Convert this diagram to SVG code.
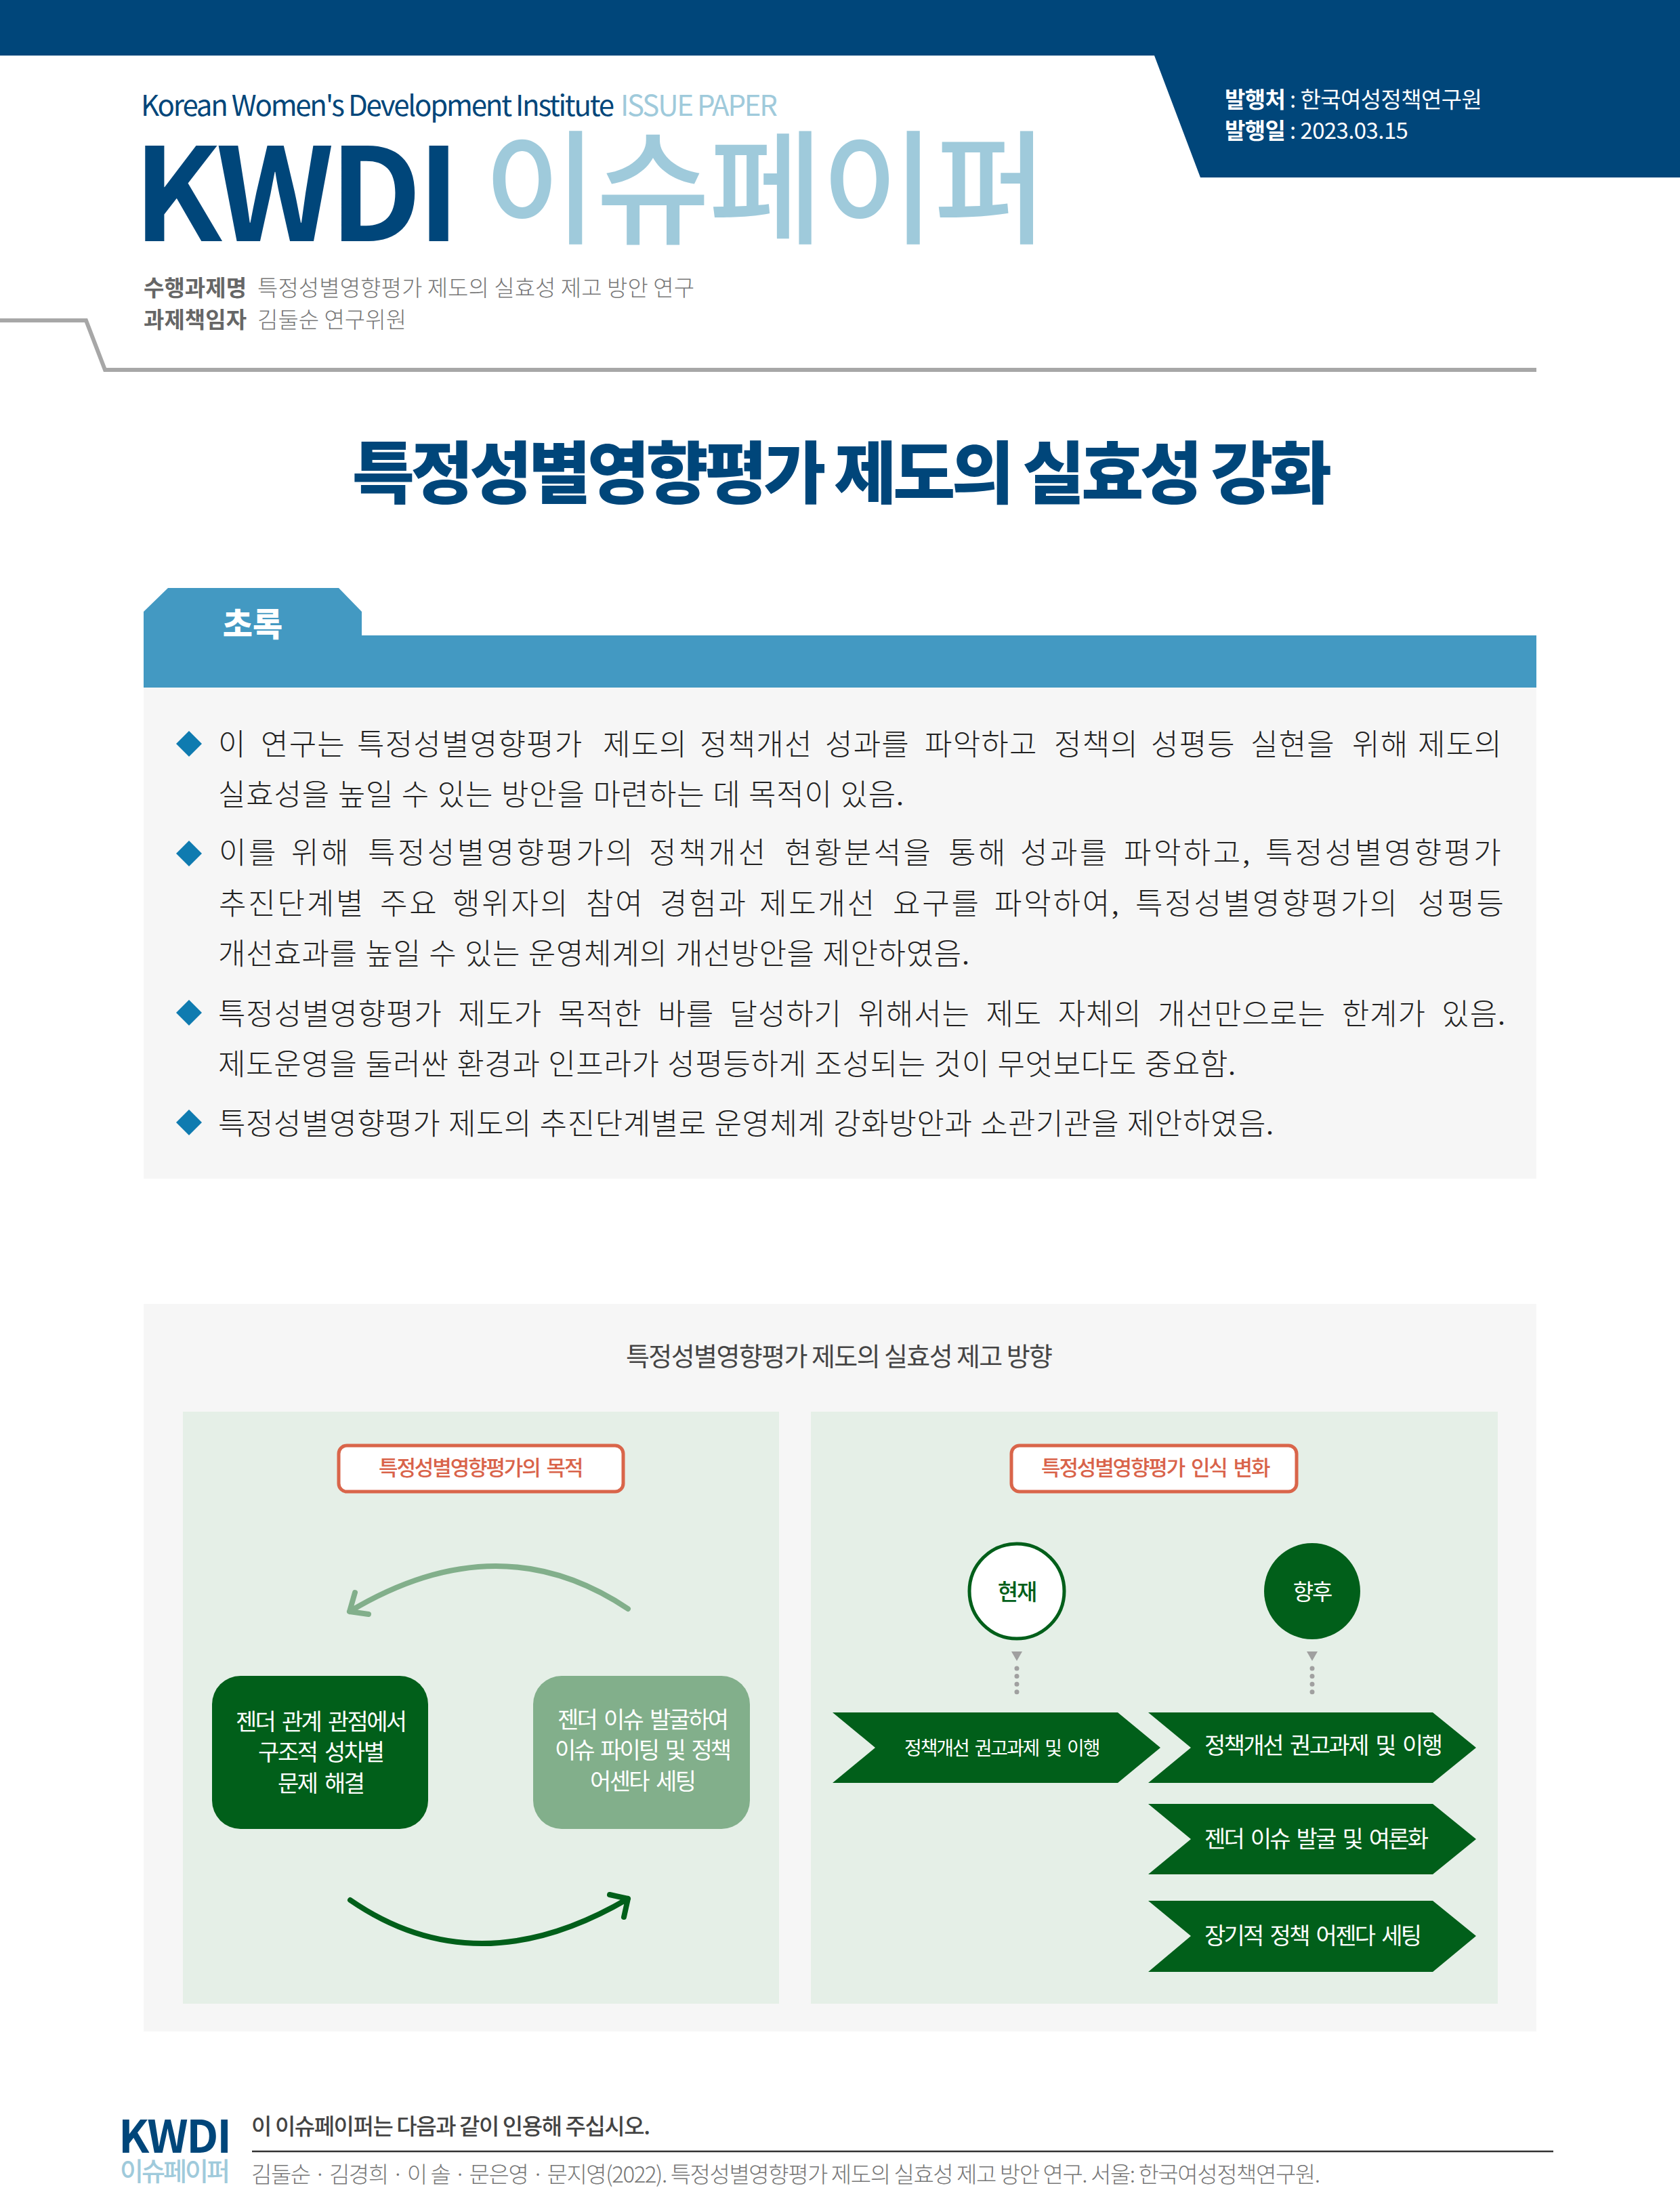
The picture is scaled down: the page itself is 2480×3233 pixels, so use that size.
<svg xmlns="http://www.w3.org/2000/svg" width="2480" height="3233" viewBox="0 0 2480 3233">
<defs>
<style>
text{font-family:"Noto Sans CJK KR","Noto Sans",sans-serif}
.body{font-family:"Liberation Serif","Noto Sans CJK KR",serif;font-size:44px;letter-spacing:-2px;fill:#222;font-weight:300}
.w{fill:#fff;text-anchor:middle;font-size:34px;font-weight:400;letter-spacing:-5px;word-spacing:6px}
.lab{fill:#d9634a;text-anchor:middle;font-size:31px;font-weight:500;letter-spacing:-4.5px;word-spacing:5px}
.lb{fill:#fff;stroke:#d9654a;stroke-width:5}
.chev{fill:#015f1a}
.cht{fill:#fff;font-size:34px;font-weight:400;letter-spacing:-5px;word-spacing:6px}
.meta{font-size:33px;fill:#777;font-weight:300}
.metab{font-size:33px;fill:#666;font-weight:700}
.pub{font-size:33px;fill:#fff;letter-spacing:-.6px}
.dot{fill:none;stroke:#a0a0a0;stroke-width:7;stroke-linecap:round;stroke-dasharray:0 11.6}
.arr{fill:none;stroke-width:8;stroke-linecap:round;stroke-linejoin:round}
.dia{fill:#0f7bb0}
</style>
</defs>
<rect width="2480" height="3233" fill="#fff"/>
<g id="header">
<path d="M0 0H2480V262H1772L1704 82H0Z" fill="#00467a"/>
<text class="pub" y="159"><tspan x="1808" font-weight="700">발행처</tspan><tspan> : 한국여성정책연구원</tspan></text>
<text class="pub" y="205"><tspan x="1808" font-weight="700">발행일</tspan><tspan> : 2023.03.15</tspan></text>
<text x="208" y="171" font-size="42" fill="#00467a" font-weight="400" textLength="699">Korean Women's Development Institute</text>
<text x="916" y="171" font-size="42" fill="#9fcadb" font-weight="400" textLength="232">ISSUE PAPER</text>
<text x="197" y="356" font-size="190" font-weight="700" fill="#00467a" textLength="482">KWDI</text>
<text x="714" y="345" font-size="182" font-weight="500" fill="#9fcadb" textLength="832">이슈페이퍼</text>
<text class="metab" x="212" y="437" textLength="152">수행과제명</text>
<text class="meta" x="380" y="437" textLength="645">특정성별영향평가 제도의 실효성 제고 방안 연구</text>
<text class="metab" x="212" y="484" textLength="152">과제책임자</text>
<text class="meta" x="380" y="484" textLength="220">김둘순 연구위원</text>
<path d="M0 473H127L155 546H2268" fill="none" stroke="#a7a7a7" stroke-width="6"/>
</g>
<text id="title" x="520" y="735" font-size="100" font-weight="900" fill="#00467a" textLength="1446">특정성별영향평가 제도의 실효성 강화</text>
<g id="abstract">
<rect x="212" y="1015" width="2056" height="725" fill="#f6f6f6"/>
<path d="M212 903L248 868H500L534 903V938H2268V1015H212Z" fill="#4399c2"/>
<text x="373" y="939" font-size="48" font-weight="900" fill="#fff" text-anchor="middle">초록</text>
<path class="dia" d="M279 1079L298 1098L279 1117L260 1098Z"/>
<path class="dia" d="M279 1241L298 1260L279 1279L260 1260Z"/>
<path class="dia" d="M279 1476L298 1495L279 1514L260 1495Z"/>
<path class="dia" d="M279 1638L298 1657L279 1676L260 1657Z"/>
<text class="body" y="1115" style="letter-spacing:1.2px"><tspan x="322">이</tspan> <tspan x="385">연구는</tspan> <tspan x="527">특정성별영향평가</tspan> <tspan x="890">제도의</tspan> <tspan x="1033">정책개선</tspan> <tspan x="1218">성과를</tspan> <tspan x="1365">파악하고</tspan> <tspan x="1556">정책의</tspan> <tspan x="1699">성평등</tspan> <tspan x="1846">실현을</tspan> <tspan x="1996">위해</tspan> <tspan x="2093">제도의</tspan></text>
<text class="body" x="322" y="1189" textLength="1010">실효성을 높일 수 있는 방안을 마련하는 데 목적이 있음.</text>
<text class="body" y="1275" style="letter-spacing:3.4px"><tspan x="323">이를</tspan> <tspan x="430">위해</tspan> <tspan x="543">특정성별영향평가의</tspan> <tspan x="958">정책개선</tspan> <tspan x="1158">현황분석을</tspan> <tspan x="1400">통해</tspan> <tspan x="1506">성과를</tspan> <tspan x="1659">파악하고,</tspan> <tspan x="1868">특정성별영향평가</tspan></text>
<text class="body" y="1350" style="letter-spacing:2.8px"><tspan x="323">추진단계별</tspan> <tspan x="561">주요</tspan> <tspan x="668">행위자의</tspan> <tspan x="865">참여</tspan> <tspan x="974">경험과</tspan> <tspan x="1121">제도개선</tspan> <tspan x="1318">요구를</tspan> <tspan x="1468">파악하여,</tspan> <tspan x="1676">특정성별영향평가의</tspan> <tspan x="2093">성평등</tspan></text>
<text class="body" x="322" y="1424" textLength="1107">개선효과를 높일 수 있는 운영체계의 개선방안을 제안하였음.</text>
<text class="body" x="322" y="1513" word-spacing="11.8" textLength="1898">특정성별영향평가 제도가 목적한 바를 달성하기 위해서는 제도 자체의 개선만으로는 한계가 있음.</text>
<text class="body" x="322" y="1587" textLength="1500">제도운영을 둘러싼 환경과 인프라가 성평등하게 조성되는 것이 무엇보다도 중요함.</text>
<text class="body" x="322" y="1675" textLength="1556">특정성별영향평가 제도의 추진단계별로 운영체계 강화방안과 소관기관을 제안하였음.</text>
</g>
<g id="figure">
<rect x="212" y="1925" width="2056" height="1074" fill="#f6f6f6"/>
<text x="1239" y="2016" font-size="38" font-weight="400" fill="#444" text-anchor="middle" textLength="630">특정성별영향평가 제도의 실효성 제고 방향</text>
<rect x="270" y="2084" width="880" height="874" fill="#e5efe7"/>
<rect x="1197" y="2084" width="1014" height="874" fill="#e5efe7"/>
</g>
<g id="node-purpose">
<rect class="lb" x="500" y="2134" width="420" height="68" rx="12"/>
<text class="lab" x="708" y="2178" textLength="298">특정성별영향평가의 목적</text>
</g>
<g id="node-change">
<rect class="lb" x="1493" y="2134" width="421" height="68" rx="12"/>
<text class="lab" x="1704" y="2178" textLength="334">특정성별영향평가 인식 변화</text>
</g>
<g id="node-gender">
<rect x="313" y="2474" width="319" height="226" rx="42" fill="#015f1a"/>
<text class="w" x="472" y="2554" textLength="248">젠더 관계 관점에서</text>
<text class="w" x="472" y="2599" textLength="182">구조적 성차별</text>
<text class="w" x="472" y="2645" textLength="124">문제 해결</text>
</g>
<g id="node-issue">
<rect x="787" y="2474" width="320" height="226" rx="42" fill="#82af8b"/>
<text class="w" x="947" y="2551" textLength="248">젠더 이슈 발굴하여</text>
<text class="w" x="947" y="2596" textLength="256">이슈 파이팅 및 정책</text>
<text class="w" x="947" y="2642" textLength="152">어센타 세팅</text>
</g>
<g id="node-now">
<circle cx="1501" cy="2349" r="70" fill="#fff" stroke="#015f1a" stroke-width="5"/>
<text x="1501" y="2362" font-size="33" font-weight="500" fill="#015f1a" text-anchor="middle" letter-spacing="-2">현재</text>
</g>
<g id="node-future">
<circle cx="1937" cy="2349" r="71" fill="#015f1a"/>
<text x="1937" y="2362" font-size="33" font-weight="400" fill="#fff" text-anchor="middle" letter-spacing="-2">향후</text>
</g>
<g id="connectors">
<path class="arr" stroke="#82af8b" d="M927 2375Q736 2247 516 2379M524 2351L516 2379L544 2383"/>
<path class="arr" stroke="#015f1a" d="M517 2805Q704 2934 927 2803M900 2797L927 2803L921 2830"/>
<path d="M1493 2438H1509L1501 2452Z" fill="#a0a0a0"/>
<path d="M1929 2438H1945L1937 2452Z" fill="#a0a0a0"/>
<path class="dot" d="M1501 2463V2499"/>
<path class="dot" d="M1937 2463V2499"/>
</g>
<g id="node-current-1">
<path class="chev" d="M1229 2528H1650L1713 2580L1650 2632H1229L1292 2580Z"/>
<text x="1335" y="2591" font-size="28" font-weight="400" fill="#fff" letter-spacing="-3.5" word-spacing="5" textLength="286">정책개선 권고과제 및 이행</text>
</g>
<g id="node-future-1">
<path class="chev" d="M1695 2528H2115L2179 2580L2115 2632H1695L1758 2580Z"/>
<text class="cht" x="1778" y="2589" textLength="347">정책개선 권고과제 및 이행</text>
</g>
<g id="node-future-2">
<path class="chev" d="M1695 2663H2115L2179 2715L2115 2767H1695L1758 2715Z"/>
<text class="cht" x="1778" y="2727" textLength="326">젠더 이슈 발굴 및 여론화</text>
</g>
<g id="node-future-3">
<path class="chev" d="M1695 2806H2115L2179 2858L2115 2911H1695L1758 2858Z"/>
<text class="cht" x="1778" y="2870" textLength="316">장기적 정책 어젠다 세팅</text>
</g>
<g id="footer">
<text x="175" y="3178" font-size="66" font-weight="700" fill="#00467a" textLength="167">KWDI</text>
<text x="177" y="3219" font-size="38" font-weight="500" fill="#9fcadb" textLength="163">이슈페이퍼</text>
<text x="371" y="3151" font-size="33" font-weight="500" fill="#444" textLength="589">이 이슈페이퍼는 다음과 같이 인용해 주십시오.</text>
<path d="M372 3176H2293" stroke="#333" stroke-width="2.5"/>
<text x="371" y="3222" font-size="33" font-weight="300" fill="#777" textLength="1578">김둘순 · 김경희 · 이 솔 · 문은영 · 문지영(2022). 특정성별영향평가 제도의 실효성 제고 방안 연구. 서울: 한국여성정책연구원.</text>
</g>
</svg>
